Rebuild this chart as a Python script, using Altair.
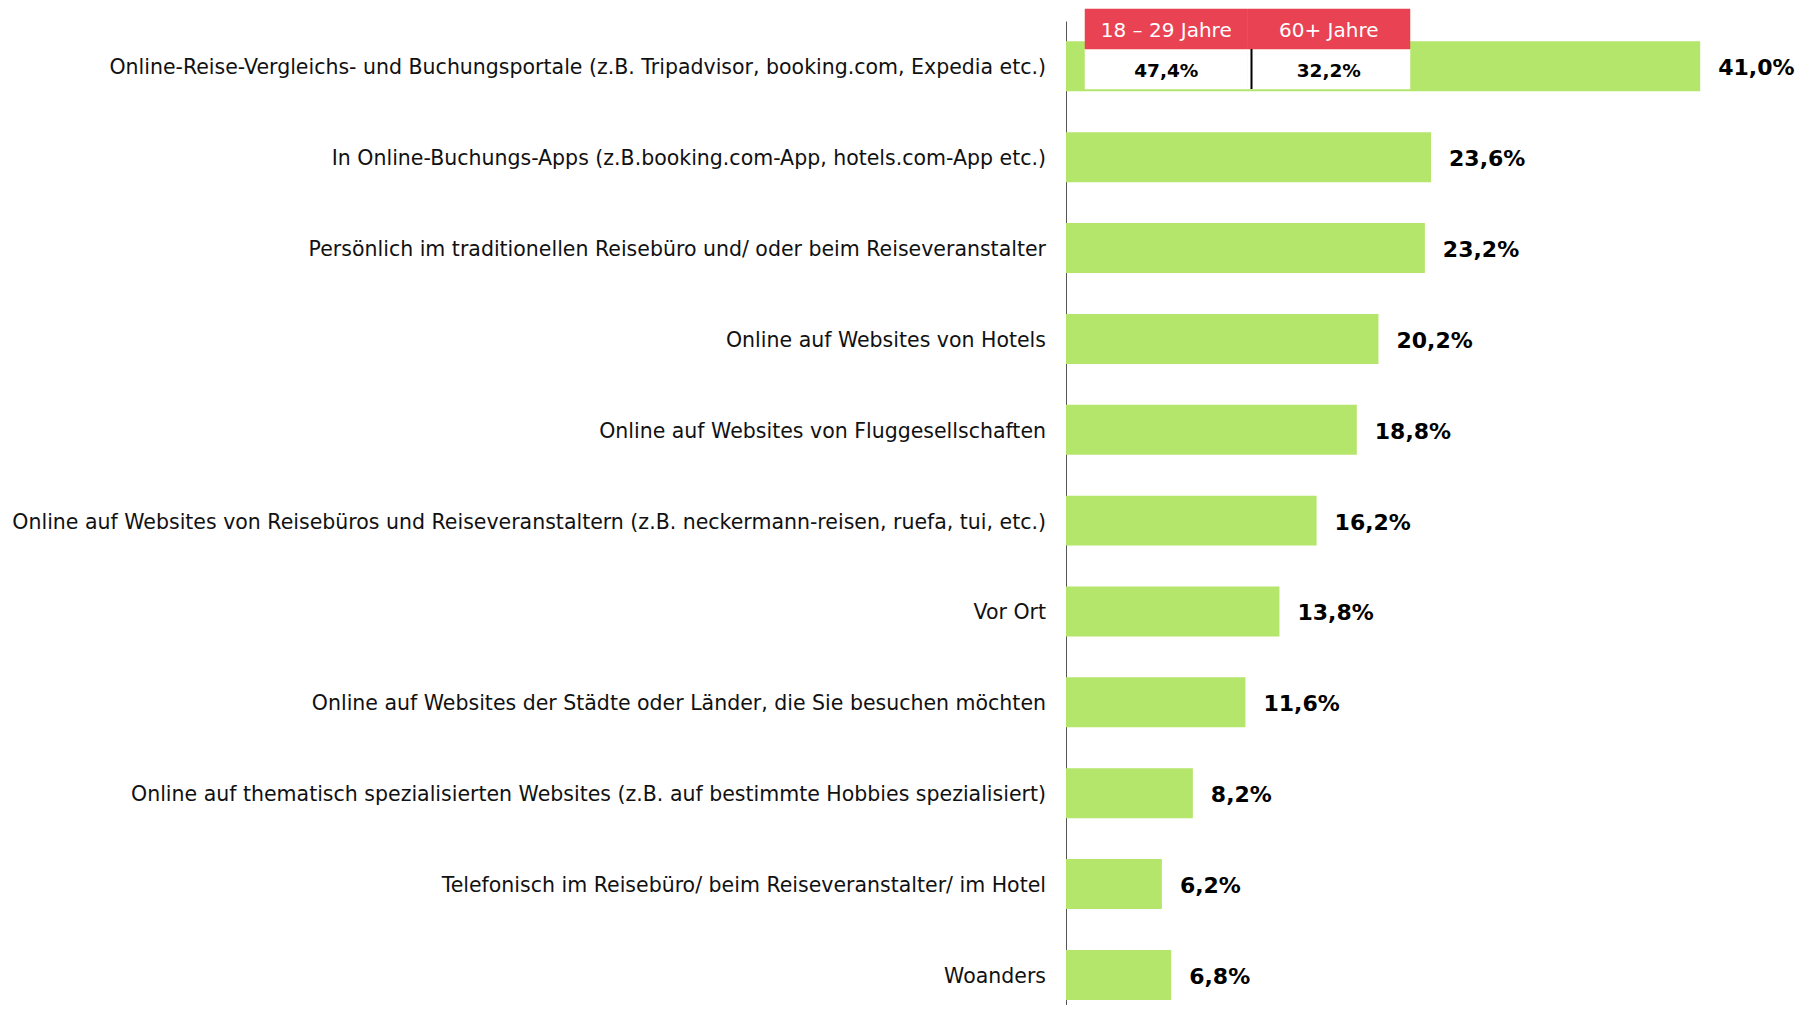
import altair as alt
import pandas as pd

categories = [
    "Online-Reise-Vergleichs- und Buchungsportale (z.B. Tripadvisor, booking.com, Expedia etc.)",
    "In Online-Buchungs-Apps (z.B.booking.com-App, hotels.com-App etc.)",
    "Persönlich im traditionellen Reisebüro und/ oder beim Reiseveranstalter",
    "Online auf Websites von Hotels",
    "Online auf Websites von Fluggesellschaften",
    "Online auf Websites von Reisebüros und Reiseveranstaltern (z.B. neckermann-reisen, ruefa, tui, etc.)",
    "Vor Ort",
    "Online auf Websites der Städte oder Länder, die Sie besuchen möchten",
    "Online auf thematisch spezialisierten Websites (z.B. auf bestimmte Hobbies spezialisiert)",
    "Telefonisch im Reisebüro/ beim Reiseveranstalter/ im Hotel",
    "Woanders",
]
values = [41.0, 23.6, 23.2, 20.2, 18.8, 16.2, 13.8, 11.6, 8.2, 6.2, 6.8]
value_labels = ["41,0%", "23,6%", "23,2%", "20,2%", "18,8%", "16,2%", "13,8%", "11,6%", "8,2%", "6,2%", "6,8%"]

inset_groups = ["18 – 29 Jahre", "60+ Jahre"]
inset_values = ["47,4%", "32,2%"]

df = pd.DataFrame({"cat": categories, "value": values, "label": value_labels})
inset = pd.DataFrame({"group": inset_groups, "val": inset_values})

FONT = "DejaVu Sans"
GREEN = "#B3E66A"
RED = "#E84253"

y_enc = alt.Y(
    "cat:N", sort=categories,
    scale=alt.Scale(paddingInner=0.45, paddingOuter=0.14, align=0.8),
    axis=alt.Axis(labels=False, ticks=False, title=None, grid=False,
                  domainColor="#555555", domainWidth=1),
)
x_enc = alt.X("value:Q", scale=alt.Scale(domain=[0, 47]), axis=None)

base = alt.Chart(df)
bars = base.mark_bar(color=GREEN).encode(x=x_enc, y=y_enc)
vals = base.mark_text(align="left", baseline="middle", dx=18, dy=2, font=FONT,
                      fontSize=22, fontWeight="bold",
                      color="black").encode(x=x_enc, y=y_enc, text="label:N")
cats = base.mark_text(align="right", baseline="middle", dy=2, font=FONT, fontSize=20.5,
                      color="#111111").encode(
    x=alt.value(-20), y=y_enc, text="cat:N")

main = alt.layer(bars, vals, cats)


def ix(band=None):
    kw = {}
    if band is not None:
        kw["bandPosition"] = band
    return alt.X("group:N", sort=inset_groups,
                 scale=alt.Scale(range=[19, 344], paddingInner=0, paddingOuter=0),
                 axis=None, **kw)


ib = alt.Chart(inset)
white = ib.mark_rect(fill="white", stroke="white", strokeWidth=0.5).encode(
    x=ix(), y=alt.value(28), y2=alt.value(68))
head = ib.mark_rect(fill=RED, stroke=RED, strokeWidth=0.5).encode(
    x=ix(), y=alt.value(-12), y2=alt.value(28))
divider = ib.transform_filter(alt.datum.group == inset_groups[1]).mark_rule(
    color="black", strokeWidth=2, xOffset=4).encode(
    x=ix(0), y=alt.value(28), y2=alt.value(68))
htxt = ib.mark_text(baseline="middle", dy=2, font=FONT, fontSize=20,
                    color="white").encode(x=ix(0.5), y=alt.value(8), text="group:N")
vtxt = ib.mark_text(baseline="middle", dy=2, font=FONT, fontSize=18.5, fontWeight="bold",
                    color="black").encode(x=ix(0.5), y=alt.value(48), text="val:N")

inset_layer = alt.layer(white, head, divider, htxt, vtxt)

chart = alt.layer(main, inset_layer).resolve_scale(x="independent").properties(
    width=727, height=984,
    padding={"top": 0, "left": 4, "right": 0, "bottom": 0},
).configure_view(stroke=None)

chart.save("out.html", embed_options={"renderer": "svg", "actions": False})
